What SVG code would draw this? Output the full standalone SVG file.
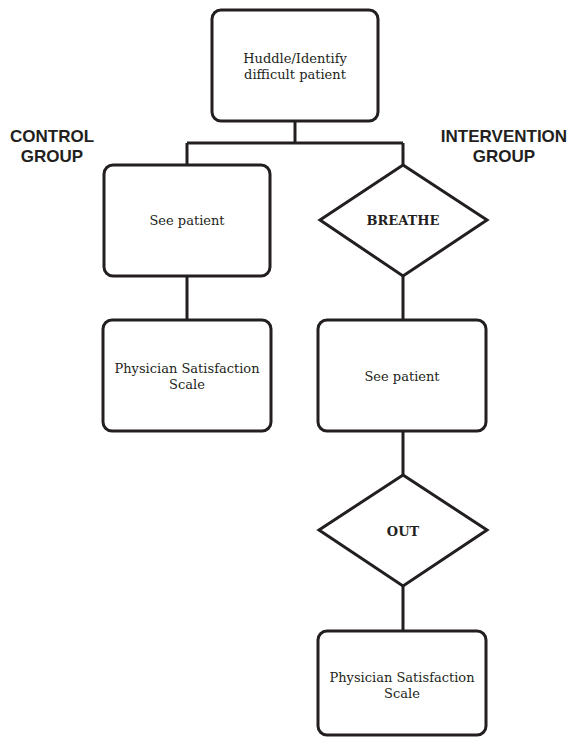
<svg xmlns="http://www.w3.org/2000/svg" width="570" height="738" viewBox="0 0 570 738">
<style>
.box{fill:#fff;stroke:#231f20;stroke-width:3}
.ln{fill:none;stroke:#231f20;stroke-width:3}
.t{font-family:"DejaVu Serif","Liberation Serif",serif;font-size:13px;fill:#231f20;text-anchor:middle}
.b{font-weight:bold}
.g{font-family:"Liberation Sans",Arial,sans-serif;font-size:17px;font-weight:bold;fill:#231f20;text-anchor:middle}
</style>
<rect width="570" height="738" fill="#fff"/>
<g id="connectors">
<path class="ln" d="M295 121V143M187 143H403M187 143V165M403 143V165M187 276V320M403 276V320M403 431V475M403 586V631"/>
</g>
<g id="labels">
<text class="g" x="52" y="142">CONTROL</text>
<text class="g" x="52" y="162">GROUP</text>
<text class="g" x="504" y="142">INTERVENTION</text>
<text class="g" x="504" y="162">GROUP</text>
</g>
<g id="huddle">
<rect class="box" x="212" y="10" width="166" height="111" rx="9"/>
<text class="t" x="295" y="63">Huddle/Identify</text>
<text class="t" x="295" y="79">difficult patient</text>
</g>
<g id="see-patient-control">
<rect class="box" x="104" y="165" width="166" height="111" rx="9"/>
<text class="t" x="187" y="225">See patient</text>
</g>
<g id="pss-control">
<rect class="box" x="103" y="320" width="168" height="111" rx="9"/>
<text class="t" x="187" y="373">Physician Satisfaction</text>
<text class="t" x="187" y="389">Scale</text>
</g>
<g id="breathe">
<polygon class="box" points="403,165 487,220 403,276 320,220"/>
<text class="t b" x="403" y="225">BREATHE</text>
</g>
<g id="see-patient-intervention">
<rect class="box" x="318" y="320" width="168" height="111" rx="9"/>
<text class="t" x="402" y="381">See patient</text>
</g>
<g id="out">
<polygon class="box" points="403,475 487,530 403,586 319,530"/>
<text class="t b" x="403" y="536">OUT</text>
</g>
<g id="pss-intervention">
<rect class="box" x="318" y="631" width="168" height="104" rx="9"/>
<text class="t" x="402" y="682">Physician Satisfaction</text>
<text class="t" x="402" y="698">Scale</text>
</g>
</svg>
